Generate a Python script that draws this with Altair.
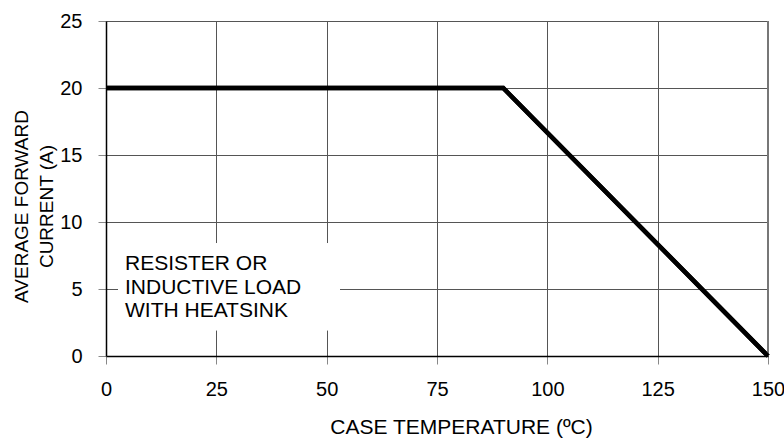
import altair as alt
import pandas as pd

temps = [0, 90, 150]
currents = [20, 20, 0]
x_ticks = [0, 25, 50, 75, 100, 125, 150]
y_ticks = [0, 5, 10, 15, 20, 25]
note = ["RESISTER OR", "INDUCTIVE LOAD", "WITH HEATSINK"]

df = pd.DataFrame({"t": temps, "i": currents})
FONT = "Liberation Sans"

x_enc = alt.X("t:Q", scale=alt.Scale(domain=[0, 150], nice=False),
              axis=alt.Axis(values=x_ticks, title="CASE TEMPERATURE (ºC)",
                            grid=True, gridColor="#555555", gridWidth=1,
                            domainColor="#000000", domainWidth=1.5,
                            tickColor="#888888", tickSize=8, tickWidth=1,
                            labelFont=FONT, labelFontSize=20, labelColor="#000000",
                            labelPadding=15, labelFlush=False,
                            titleFont=FONT, titleFontSize=21, titleFontWeight="normal",
                            titleColor="#000000", titleX=355, titleY=60,
                            titleBaseline="top", titleAlign="center"))
y_enc = alt.Y("i:Q", scale=alt.Scale(domain=[0, 25], nice=False),
              axis=alt.Axis(values=y_ticks, title=["AVERAGE FORWARD", "CURRENT (A)"],
                            grid=True, gridColor="#555555", gridWidth=1,
                            domainColor="#000000", domainWidth=1.5,
                            tickColor="#888888", tickSize=8, tickWidth=1,
                            labelFont=FONT, labelFontSize=20, labelColor="#000000",
                            labelPadding=16, labelFlush=False,
                            titleFont=FONT, titleFontSize=19, titleFontWeight="normal",
                            titleColor="#000000", titleAngle=-90, titleX=-79, titleY=185,
                            titleBaseline="alphabetic", titleAlign="center",
                            titleLineHeight=25))

base = alt.Chart(df)

box = base.mark_rect(fill="white", stroke=None).encode(
    x=alt.value(12), x2=alt.value(234), y=alt.value(222.3), y2=alt.value(309.3))

txt = alt.Chart(pd.DataFrame({"label": [note]})).mark_text(
    font=FONT, fontSize=21, align="left", baseline="alphabetic",
    lineHeight=23.5, color="#000000").encode(
    x=alt.value(19), y=alt.value(249.3), text="label")

right_edge = alt.Chart(pd.DataFrame({"t": [150]})).mark_rule(
    color="#777777", strokeWidth=2).encode(x="t:Q")

line = base.mark_line(color="#000000", strokeWidth=4.5, strokeJoin="miter").encode(
    x=x_enc, y=y_enc)

chart = alt.layer(line, box, txt, right_edge, line).properties(
    width=662, height=335,
    autosize=alt.AutoSizeParams(type="none"),
    padding={"left": 106, "top": 21, "right": 16, "bottom": 86},
).configure_view(stroke="#222222", strokeWidth=1)

chart.save("out.html", embed_options={"renderer": "svg", "actions": False})
